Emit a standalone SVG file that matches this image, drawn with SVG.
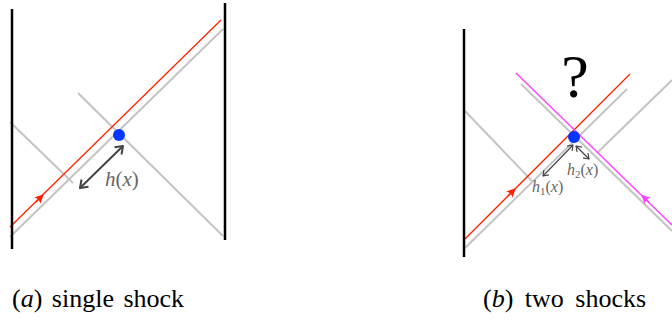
<svg xmlns="http://www.w3.org/2000/svg" width="672" height="320" viewBox="0 0 672 320">
  <style>
    .wall { stroke: #000; stroke-width: 2.5; fill: none; }
    .char { stroke: #c4c4c4; stroke-width: 2; fill: none; }
    .red { stroke: #ff2200; stroke-width: 1.3; fill: none; }
    .mag { stroke: #ff44ff; stroke-width: 1.5; fill: none; }
    .dot { fill: #0036ff; }
    .dist { stroke: #444; stroke-width: 2; fill: none; }
    .dist2 { stroke: #444; stroke-width: 1.2; fill: none; }
    text, tspan { font-family: 'Liberation Serif', serif; }
    .lbl { fill: #666; }
    .cap { fill: #000; font-size: 26px; }
    .it { font-style: italic; }
  </style>
  <defs>
    <marker id="tipRed" markerUnits="userSpaceOnUse" viewBox="-10 -6 12 12" refX="0" refY="0" markerWidth="12" markerHeight="12" orient="auto">
      <path d="M1,0 L-8,-4.5 Q-5,0 -8,4.5 Z" fill="#ff2200"/>
    </marker>
    <marker id="tipMag" markerUnits="userSpaceOnUse" viewBox="-10 -6 12 12" refX="0" refY="0" markerWidth="12" markerHeight="12" orient="auto">
      <path d="M1,0 L-8,-4.5 Q-5,0 -8,4.5 Z" fill="#ff44ff"/>
    </marker>
    <marker id="openA" markerUnits="userSpaceOnUse" viewBox="-10 -7 12 14" refX="0" refY="0" markerWidth="12" markerHeight="14" orient="auto-start-reverse">
      <path d="M-7,-5 L0,0 L-7,5" stroke="#444" stroke-width="2" fill="none" stroke-linejoin="round"/>
    </marker>
    <marker id="openB" markerUnits="userSpaceOnUse" viewBox="-8 -5 10 10" refX="0" refY="0" markerWidth="10" markerHeight="10" orient="auto-start-reverse">
      <path d="M-5,-3.5 L0,0 L-5,3.5" stroke="#444" stroke-width="1.2" fill="none" stroke-linejoin="round"/>
    </marker>
  </defs>

  <g id="connectors">
    <line class="char" x1="10" y1="237" x2="223" y2="29"/>
    <line class="char" x1="10" y1="122" x2="73" y2="183"/>
    <line class="char" x1="78" y1="93" x2="223" y2="236"/>
    <line class="red" x1="10" y1="227" x2="221" y2="20"/>
    <path class="red" d="M35.9,202 L43,195" marker-end="url(#tipRed)"/>
    <line class="dist" x1="80" y1="188" x2="123" y2="146" marker-start="url(#openA)" marker-end="url(#openA)"/>
    <line class="char" x1="465" y1="248" x2="627" y2="89"/>
    <line class="char" x1="465" y1="111" x2="532" y2="181"/>
    <line class="char" x1="521" y1="84" x2="672" y2="231"/>
    <line class="char" x1="672" y1="80" x2="597" y2="153"/>
    <line class="red" x1="465" y1="239" x2="630" y2="74"/>
    <line class="mag" x1="516" y1="73" x2="672" y2="225"/>
    <path class="red" d="M508,196 L515,189" marker-end="url(#tipRed)"/>
    <path class="mag" d="M649.2,202.5 L642,195.5" marker-end="url(#tipMag)"/>
    <line class="dist2" x1="573" y1="145" x2="543" y2="176" marker-start="url(#openB)" marker-end="url(#openB)"/>
    <line class="dist2" x1="576" y1="146" x2="589" y2="159" marker-start="url(#openB)" marker-end="url(#openB)"/>
  </g>

  <g id="walls">
    <line class="wall" x1="12" y1="9" x2="12" y2="249"/>
    <line class="wall" x1="225" y1="3" x2="225" y2="240"/>
    <line class="wall" x1="464" y1="29" x2="464" y2="257"/>
  </g>

  <g id="shock-a">
    <circle class="dot" cx="119" cy="135" r="6"/>
    <text class="lbl" x="105" y="186" font-size="21"><tspan class="it">h</tspan>(<tspan class="it">x</tspan>)</text>
  </g>

  <g id="shock-b">
    <circle class="dot" cx="574" cy="137" r="6"/>
    <text class="lbl" x="567" y="175" font-size="16"><tspan class="it">h</tspan><tspan font-size="11" dy="3">2</tspan><tspan dy="-3">(</tspan><tspan class="it">x</tspan>)</text>
    <text class="lbl" x="532" y="192" font-size="16"><tspan class="it">h</tspan><tspan font-size="11" dy="3">1</tspan><tspan dy="-3">(</tspan><tspan class="it">x</tspan>)</text>
    <text x="575" y="97" text-anchor="middle" font-size="62" fill="#000">?</text>
  </g>

  <g id="captions">
    <text class="cap" x="12" y="307" word-spacing="3">(<tspan class="it">a</tspan>) single shock</text>
    <text class="cap" x="483" y="307" word-spacing="5">(<tspan class="it">b</tspan>) two shocks</text>
  </g>
</svg>
